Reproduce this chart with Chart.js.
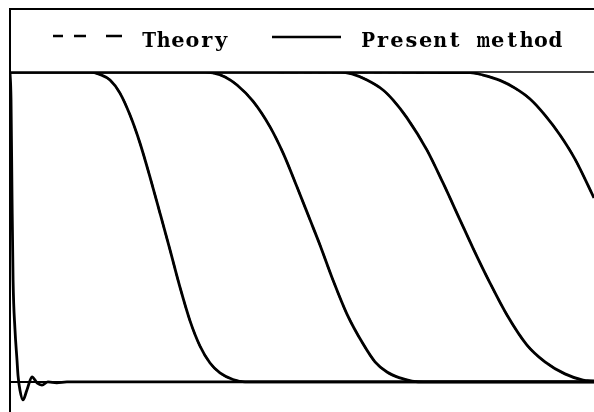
<!DOCTYPE html>
<html>
<head>
<meta charset="utf-8">
<script src="https://cdn.jsdelivr.net/npm/chart.js@4.4.0/dist/chart.umd.min.js"></script>
<style>
  html, body { margin: 0; padding: 0; background: #fff; }
  canvas { display: block; }
</style>
</head>
<body>
<canvas id="chart" width="594" height="412"></canvas>
<script>
// Legend labels
const seriesLabels = ['Theory', 'Present method'];

// Front profiles at successive times: position t and concentration c
const front0T = [0, 0.007, 0.014, 0.021, 0.034, 0.048, 0.055, 0.068, 0.089, 0.116, 0.151, 0.185, 0.219, 0.26, 0.32, 0.39, 4.0];
const front0C = [1.0, 0.91, 0.59, 0.33, 0.17, 0.07, 0.02, -0.026, -0.058, -0.026, 0.016, -0.003, -0.01, 0.0, -0.003, 0.0, 0.0];

const front1T = [0, 0.548, 0.616, 0.685, 0.753, 0.822, 0.890, 0.959, 1.027, 1.096, 1.164, 1.233, 1.301, 1.370, 1.438, 1.527, 1.610, 4.0];
const front1C = [1, 1, 0.992, 0.974, 0.932, 0.861, 0.771, 0.661, 0.545, 0.426, 0.306, 0.197, 0.116, 0.061, 0.029, 0.008, 0, 0];

const front2T = [0, 1.336, 1.390, 1.473, 1.555, 1.664, 1.781, 1.870, 1.966, 2.055, 2.123, 2.212, 2.308, 2.418, 2.5, 2.582, 2.671, 2.753, 2.842, 4.0];
const front2C = [1, 1, 0.997, 0.984, 0.958, 0.906, 0.823, 0.739, 0.629, 0.523, 0.442, 0.329, 0.219, 0.123, 0.065, 0.032, 0.013, 0.003, 0, 0];

const front3T = [0, 2.260, 2.342, 2.445, 2.555, 2.623, 2.719, 2.856, 2.966, 3.082, 3.171, 3.288, 3.404, 3.541, 3.664, 3.801, 3.925, 4.0];
const front3C = [1, 1, 0.994, 0.974, 0.942, 0.910, 0.852, 0.748, 0.642, 0.523, 0.432, 0.319, 0.216, 0.119, 0.065, 0.026, 0.006, 0.003];

const front4T = [0, 3.151, 3.240, 3.356, 3.459, 3.562, 3.664, 3.767, 3.870, 4.0];
const front4C = [1, 0.998, 0.990, 0.973, 0.948, 0.913, 0.861, 0.797, 0.719, 0.594];

// Exact solution: ideal step at t = 0, later fronts coincide with the computed ones
const theory0T = [0, 0, 4.0];
const theory0C = [1, 0, 0];

const presentFronts = [[front0T, front0C], [front1T, front1C], [front2T, front2C], [front3T, front3C], [front4T, front4C]];
const theoryFronts = [[theory0T, theory0C], [front1T, front1C], [front2T, front2C], [front3T, front3C], [front4T, front4C]];

const toPoints = (ts, cs) => ts.map((t, i) => ({ x: t, y: cs[i] }));

const datasets = [];
theoryFronts.forEach(([ts, cs], i) => {
  datasets.push({
    label: seriesLabels[0],
    data: toPoints(ts, cs),
    borderColor: '#000',
    borderWidth: 2,
    borderDash: [8, 6],
    cubicInterpolationMode: i === 0 ? 'default' : 'monotone',
    tension: 0,
    pointRadius: 0,
    fill: false,
    order: 2
  });
});
presentFronts.forEach(([ts, cs]) => {
  datasets.push({
    label: seriesLabels[1],
    data: toPoints(ts, cs),
    borderColor: '#000',
    borderWidth: 2.8,
    cubicInterpolationMode: 'monotone',
    pointRadius: 0,
    fill: false,
    order: 1
  });
});

// Frame, reference lines and the boxed legend above the plot
const framePlugin = {
  id: 'frame',
  afterDatasetsDraw(chart) {
    const { ctx, chartArea, scales } = chart;
    const y = scales.y;
    const left = chartArea.left;
    const right = chart.width;
    ctx.save();
    ctx.strokeStyle = '#000';
    ctx.setLineDash([]);
    ctx.lineCap = 'butt';

    // outer frame: top edge and left edge
    ctx.lineWidth = 2;
    ctx.beginPath();
    ctx.moveTo(left, 9);
    ctx.lineTo(right, 9);
    ctx.moveTo(left, 8);
    ctx.lineTo(left, chart.height);
    ctx.stroke();

    // c = 1 line (bottom of the legend box) and c = 0 baseline
    ctx.lineWidth = 1.6;
    ctx.beginPath();
    ctx.moveTo(left, y.getPixelForValue(1));
    ctx.lineTo(right, y.getPixelForValue(1));
    ctx.stroke();
    ctx.lineWidth = 2;
    ctx.beginPath();
    ctx.moveTo(left, y.getPixelForValue(0));
    ctx.lineTo(right, y.getPixelForValue(0));
    ctx.stroke();

    // legend samples
    ctx.lineWidth = 2.6;
    ctx.setLineDash([10, 11, 12, 20, 16, 40]);
    ctx.beginPath();
    ctx.moveTo(53, 36);
    ctx.lineTo(122, 36);
    ctx.stroke();
    ctx.setLineDash([]);
    ctx.beginPath();
    ctx.moveTo(272, 37);
    ctx.lineTo(341, 37);
    ctx.stroke();

    // legend text, typewriter pitch
    ctx.fillStyle = '#000';
    ctx.font = 'bold 21px "DejaVu Serif"';
    ctx.textAlign = 'center';
    ctx.textBaseline = 'alphabetic';
    const pitch = 14.4;
    const drawPitched = (text, x0, base) => {
      [...text].forEach((ch, i) => {
        ctx.fillText(ch, x0 + pitch * (i + 0.5), base, pitch - 0.6);
      });
    };
    drawPitched(seriesLabels[0], 142, 47);
    drawPitched(seriesLabels[1], 361, 47);
    ctx.restore();
  }
};

new Chart(document.getElementById('chart'), {
  type: 'line',
  data: { datasets },
  options: {
    responsive: false,
    animation: false,
    devicePixelRatio: 1,
    layout: { padding: { top: 72, left: 10, right: 0, bottom: 0 } },
    plugins: { legend: { display: false }, tooltip: { enabled: false } },
    scales: {
      x: { type: 'linear', min: 0, max: 4, display: false },
      y: {
        type: 'linear', min: -0.097, max: 1, display: true,
        ticks: { display: false },
        grid: { display: false, drawTicks: false },
        border: { display: false }
      }
    }
  },
  plugins: [framePlugin]
});
</script>
</body>
</html>
